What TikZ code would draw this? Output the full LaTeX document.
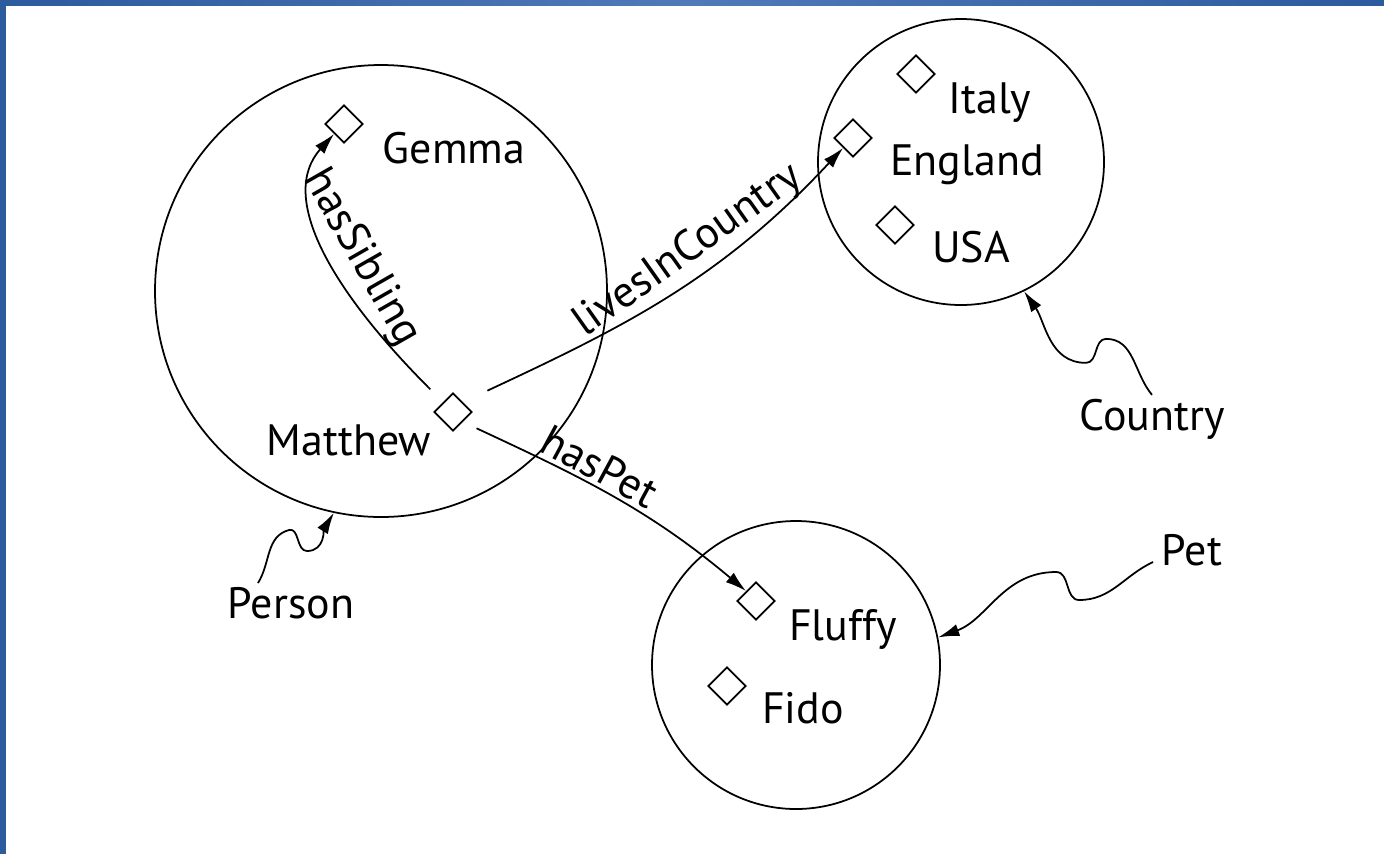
\documentclass[tikz,border=0pt]{standalone}
\usepackage{fontspec}
\setmainfont{PT Sans}
\usetikzlibrary{arrows.meta,shapes.geometric,positioning}
\definecolor{frameblue}{HTML}{2C5B9E}
\definecolor{framelight}{HTML}{5079B8}
\begin{document}
\begin{tikzpicture}[
    classset/.style={draw, circle, line width=1pt, inner sep=0pt},
    indiv/.style={draw, diamond, aspect=1, minimum size=0.76cm, inner sep=0pt, line width=1pt},
    txt/.style={font=\fontsize{25}{30}\selectfont, anchor=base, inner sep=2pt},
    rel/.style={line width=1pt, -{Latex[length=12pt,width=7pt]}},
    rellbl/.style={font=\fontsize{25}{30}\selectfont, sloped, above, inner sep=2pt},
    pointer/.style={line width=1pt, -{Latex[length=12pt,width=7pt]}}
]
\useasboundingbox (0,0) rectangle (27.68,-17.08);
% slide frame
\fill[frameblue] (0,0) rectangle (0.12,-17.08);
\shade[left color=frameblue, right color=frameblue, middle color=framelight] (0,0) rectangle (27.68,-0.1);

% classes
\node[classset, minimum size=9.04cm] (personset) at (7.62,-5.82) {};
\node[classset, minimum size=5.72cm] (countryset) at (19.22,-3.24) {};
\node[classset, minimum size=5.76cm] (petset) at (15.92,-13.30) {};

% individuals
\node[indiv] (gemma) at (6.88,-2.48) {};
\node[indiv] (matthew) at (9.06,-8.24) {};
\node[indiv] (italy) at (18.32,-1.48) {};
\node[indiv] (england) at (17.06,-2.76) {};
\node[indiv] (usa) at (17.90,-4.50) {};
\node[indiv] (fluffy) at (15.12,-12.02) {};
\node[indiv] (fido) at (14.54,-13.72) {};

\node[txt] (gemmalbl) at (9.08,-3.26) {Gemma};
\node[txt] (matthewlbl) at (6.98,-9.10) {Matthew};
\node[txt] (italylbl) at (19.80,-2.26) {Italy};
\node[txt] (englandlbl) at (19.34,-3.50) {England};
\node[txt] (usalbl) at (19.42,-5.24) {USA};
\node[txt] (fluffylbl) at (16.86,-12.80) {Fluffy};
\node[txt] (fidolbl) at (16.06,-14.46) {Fido};
\node[txt] (personlbl) at (5.82,-12.36) {Person};
\node[txt] (countrylbl) at (23.04,-8.60) {Country};
\node[txt] (petlbl) at (23.84,-11.30) {Pet};

% properties
\draw[rel, shorten <=0.36cm] (matthew.north west)
    to[out=135,in=228,out looseness=1.4,in looseness=0.75]
    node[rellbl, pos=0.42, inner sep=4pt] {hasSibling} (gemma.south west);
\draw[rel, shorten <=0.54cm] (matthew.north east) to[out=25,in=227]
    node[rellbl, pos=0.6, inner sep=3pt] {livesInCountry} (england.south west);
\draw[rel, shorten <=0.3cm] (matthew.south east) to[out=-25,in=140]
    node[rellbl, pos=0.42] {hasPet} (fluffy.north west);

% class names
\draw[pointer] ([xshift=-0.66cm]personlbl.north) to[out=58,in=195] ++(0.62,1.06)
    to[out=15,in=180] ++(0.36,-0.42) to[out=0,in=238] (personset.258);
\draw[pointer] (countrylbl.north) to[out=130,in=0] ++(-0.92,1.12)
    to[out=180,in=0] ++(-0.40,-0.48) to[out=180,in=-55] (countryset.296);
\draw[pointer] ([xshift=-0.1cm,yshift=0.06cm]petlbl.base west) to[out=205,in=0] ++(-1.48,-0.76)
    to[out=180,in=0] ++(-0.46,0.56) to[out=180,in=20] (petset.11);
\end{tikzpicture}
\end{document}
